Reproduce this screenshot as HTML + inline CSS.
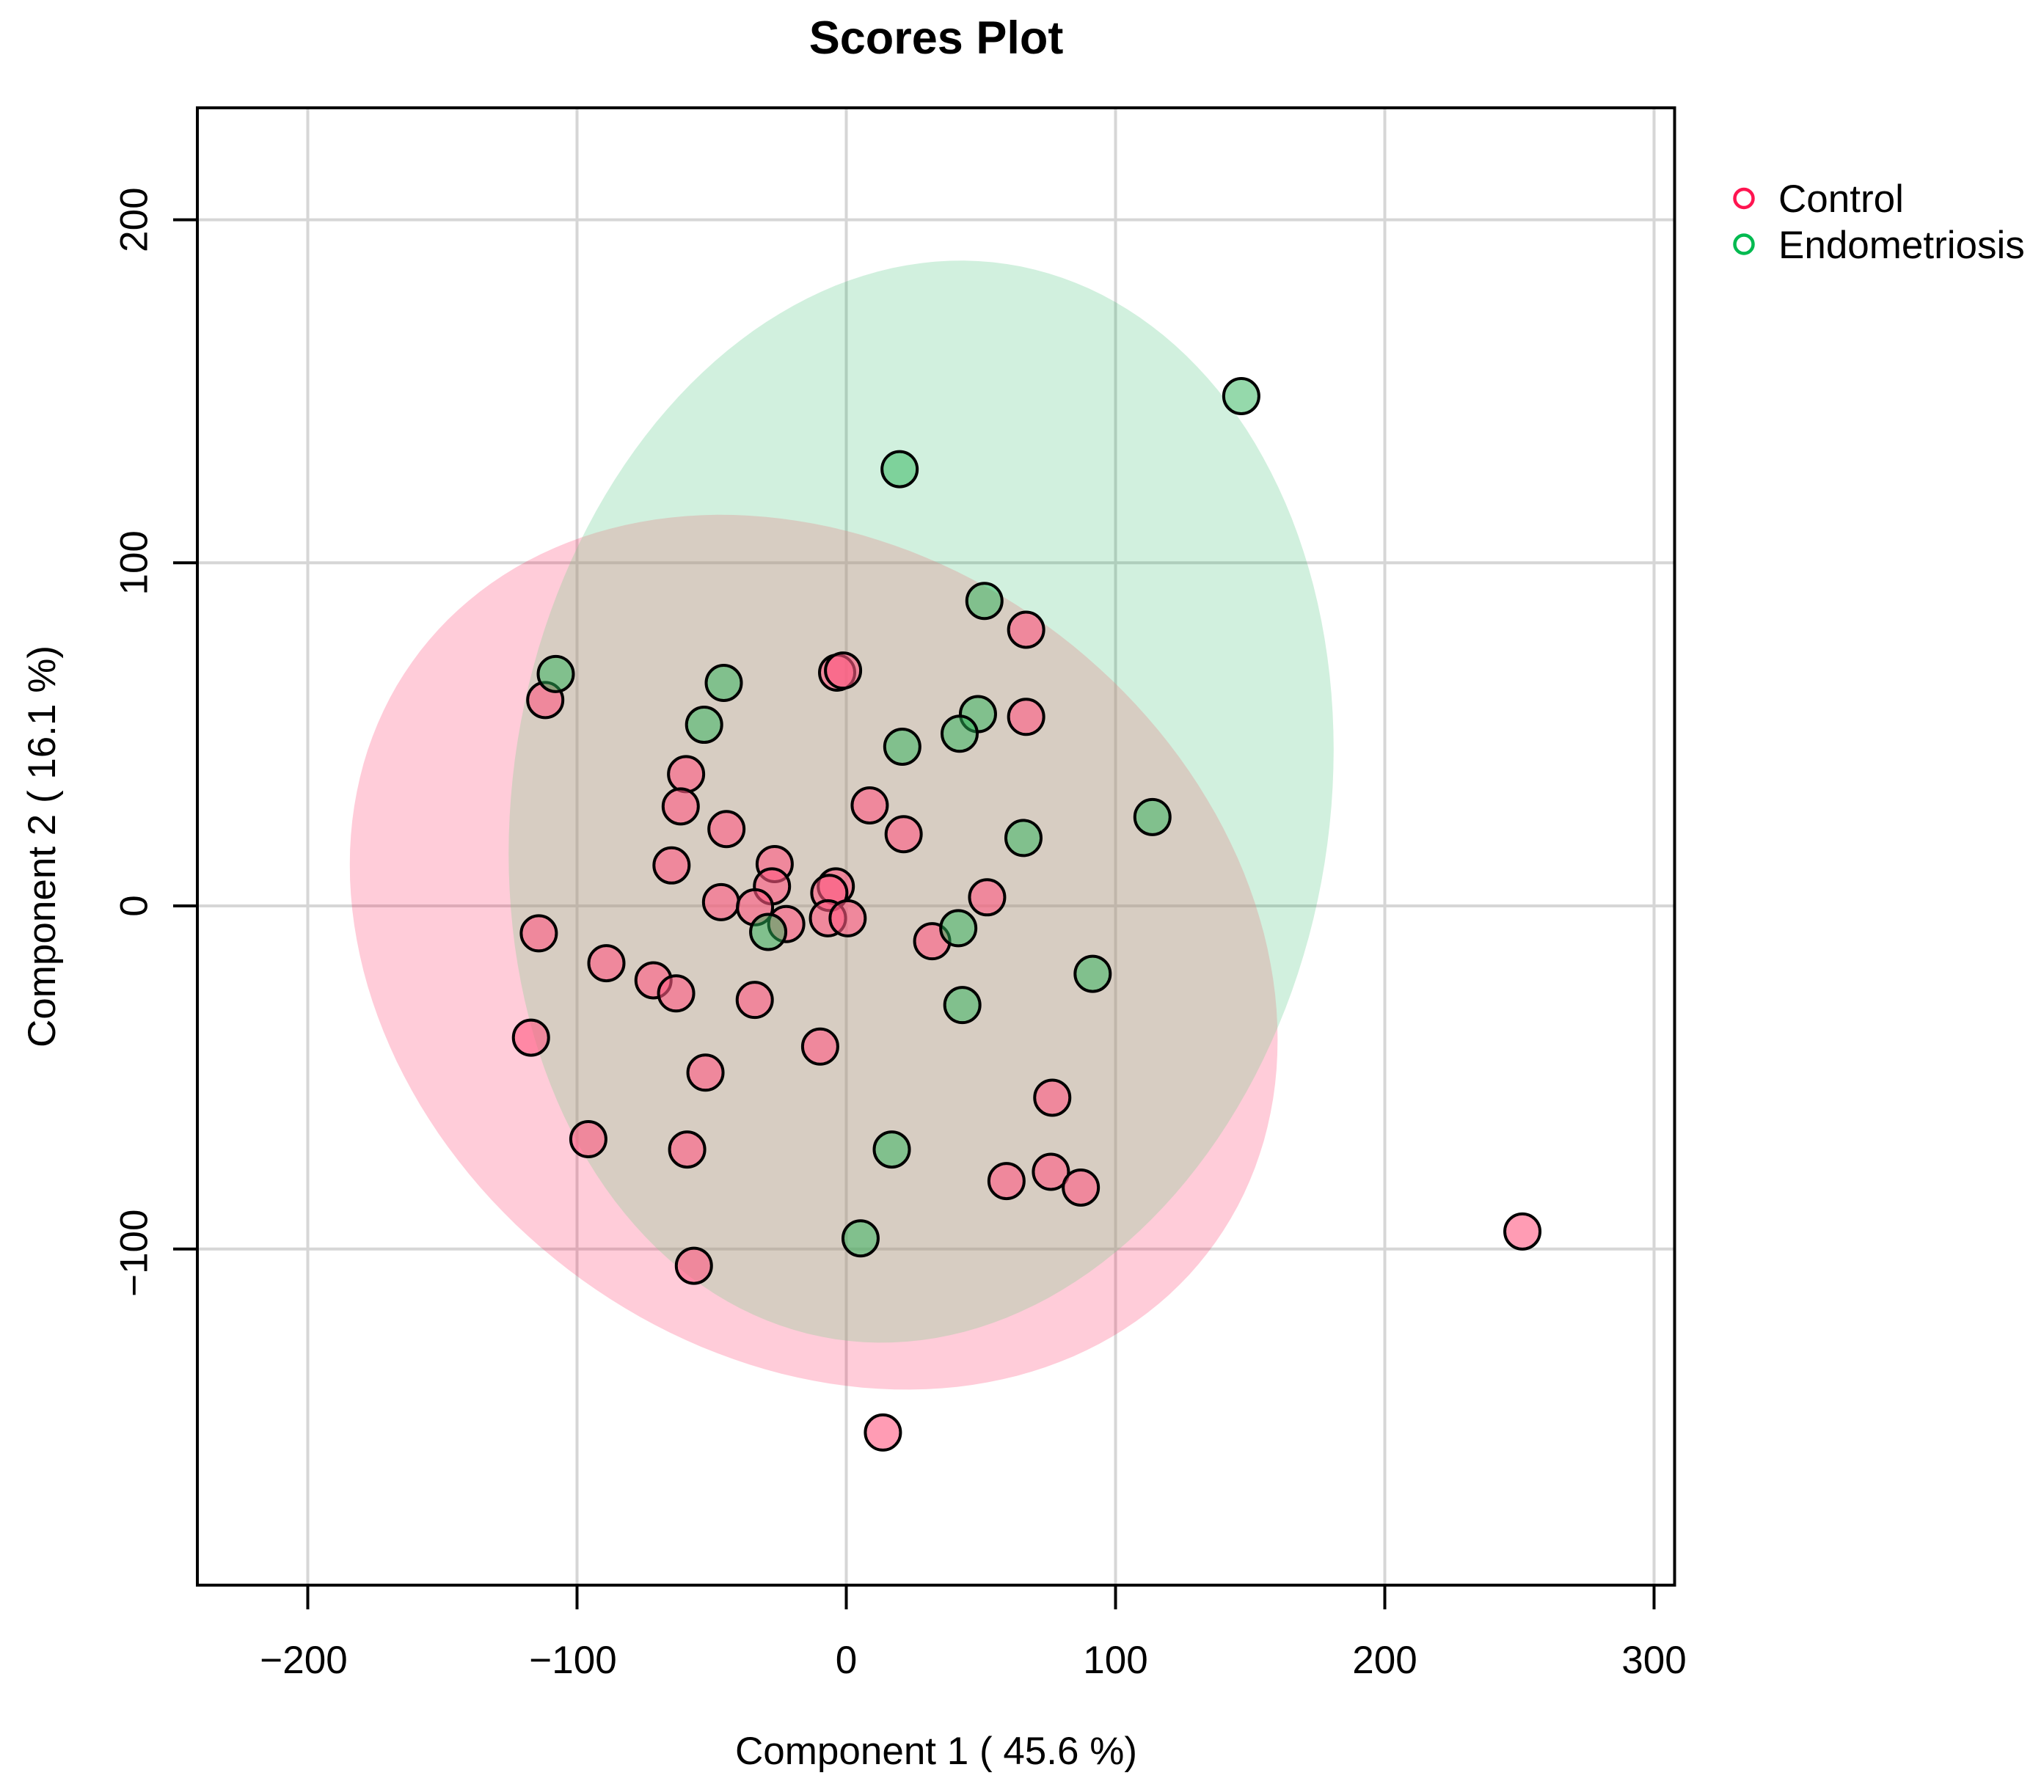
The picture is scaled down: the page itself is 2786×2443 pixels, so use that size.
<!DOCTYPE html>
<html lang="en">
<head>
<meta charset="utf-8">
<title>Scores Plot</title>
<style>
html,body{margin:0;padding:0;background:#fff;}
svg{display:block;font-family:"Liberation Sans",Arial,sans-serif;}
text{fill:#000;}
</style>
</head>
<body>
<svg id="chart" xmlns="http://www.w3.org/2000/svg" width="2786" height="2443" viewBox="0 0 2786 2443">
  <rect x="0" y="0" width="2786" height="2443" fill="#ffffff"/>
  <defs><clipPath id="control-clip"><polygon id="control-clip-shape" points="0,0"/></clipPath></defs>
  <g id="grid"></g>
  <g id="ellipses"></g>
  <g id="points"></g>
  <g id="axes"></g>
  <rect x="269" y="147" width="2013.5" height="2014" fill="none" stroke="#000" stroke-width="4"/>
  <text x="1276" y="73" font-size="63" font-weight="bold" text-anchor="middle">Scores Plot</text>
  <text x="1276" y="2405" font-size="53" text-anchor="middle">Component 1 ( 45.6 %)</text>
  <text transform="translate(75,1154) rotate(-90)" font-size="53" text-anchor="middle">Component 2 ( 16.1 %)</text>
  <g>
    <g>
      <circle cx="2377" cy="270.5" r="12.5" fill="none" stroke="#ff1450" stroke-width="4.5"/>
      <text x="2424" y="289" font-size="53">Control</text>
    </g>
    <g>
      <circle cx="2377" cy="333" r="12.5" fill="none" stroke="#00ba50" stroke-width="4.5"/>
      <text x="2424" y="352" font-size="53">Endometriosis</text>
    </g>
  </g>
</svg>
<script>
const xTickValues = [-200, -100, 0, 100, 200, 300];
const xTickLabels = ["\u2212200", "\u2212100", "0", "100", "200", "300"];
const yTickValues = [-100, 0, 100, 200];
const yTickLabels = ["\u2212100", "0", "100", "200"];

const controlX = [66.8, 66.8, -3.4, -1.2, -111.8, -59.5, -61.5, -44.5, 8.7, 21.3, -64.9, -26.6, -27.6, -46.5, -33.9, -22.3, -3.9, -6.3, -6.8, 0.5, 52.3, 31.9, -114.2, -89.1, -71.6, -63.2, -34.0, -117.1, -9.7, -52.3, 76.5, -95.8, -59.1, 59.5, 76.0, 87.1, -56.6, 13.6, 251.1];
const controlY = [80.5, 55.1, 68.0, 68.6, 60.0, 38.4, 29.0, 22.4, 29.3, 20.9, 11.8, 12.2, 5.7, 1.1, -0.4, -5.3, 5.7, 3.8, -3.6, -3.6, 2.5, -10.3, -8.0, -16.7, -21.7, -25.5, -27.4, -38.4, -41.0, -48.6, -55.9, -68.0, -71.0, -80.2, -77.5, -82.1, -104.9, -153.5, -94.9];
const endoX = [146.7, 19.8, 51.3, -107.9, -45.5, -52.8, 48.9, 42.1, 20.8, 113.7, 65.8, -29.0, 41.6, 91.5, 43.1, 16.9, 5.3];
const endoY = [148.6, 127.3, 88.9, 67.6, 65.0, 52.8, 55.9, 50.2, 46.4, 25.9, 19.8, -7.6, -6.5, -19.8, -28.9, -71.0, -96.9];

const ellipseCentreX = [-12.1, 27.8];
const ellipseCentreY = [-13.5, 30.4];
const ellipseHalfWidth = [172.3, 153.2];
const ellipseHalfHeight = [127.5, 157.7];
const ellipseCorrelation = [-0.2, 0.096];

const NS = "http://www.w3.org/2000/svg";
const X_ZERO = 1153.5, X_SCALE = 3.67, Y_ZERO = 1235, Y_SCALE = 4.677;
const PLOT_LEFT = 269, PLOT_RIGHT = 2282.5, PLOT_TOP = 147, PLOT_BOTTOM = 2161;
const TICK_LENGTH = 33;
function sx(v) { return X_ZERO + v * X_SCALE; }
function sy(v) { return Y_ZERO - v * Y_SCALE; }
function make(tag, attrs) {
  const el = document.createElementNS(NS, tag);
  for (const k in attrs) el.setAttribute(k, attrs[k]);
  return el;
}
const grid = document.getElementById("grid");
const axes = document.getElementById("axes");
const ellipses = document.getElementById("ellipses");
const points = document.getElementById("points");

xTickValues.forEach(function (v, i) {
  const g = make("line", {x1: sx(v), x2: sx(v), y1: PLOT_TOP, y2: PLOT_BOTTOM, stroke: "#d6d6d6", "stroke-width": 4});
  
  
  grid.appendChild(g);
  const t = make("line", {x1: sx(v), x2: sx(v), y1: PLOT_BOTTOM, y2: PLOT_BOTTOM + TICK_LENGTH, stroke: "#000", "stroke-width": 4});
  
  
  axes.appendChild(t);
  const shift = v < 0 ? -5.5 : 0;
  const l = make("text", {x: sx(v) + shift, y: 2281, "font-size": 53, "text-anchor": "middle"});
  
  
  l.textContent = xTickLabels[i];
  axes.appendChild(l);
});
yTickValues.forEach(function (v, i) {
  const g = make("line", {x1: PLOT_LEFT, x2: PLOT_RIGHT, y1: sy(v), y2: sy(v), stroke: "#d6d6d6", "stroke-width": 4});
  
  
  grid.appendChild(g);
  const t = make("line", {x1: PLOT_LEFT - TICK_LENGTH, x2: PLOT_LEFT, y1: sy(v), y2: sy(v), stroke: "#000", "stroke-width": 4});
  
  
  axes.appendChild(t);
  const shift = v < 0 ? 5.5 : 0;
  const l = make("text", {transform: "translate(200.5," + (sy(v) + shift) + ") rotate(-90)", "font-size": 53, "text-anchor": "middle"});
  
  
  l.textContent = yTickLabels[i];
  axes.appendChild(l);
});

function ellipsePoints(i) {
  const pts = [];
  const r = ellipseCorrelation[i];
  const q = Math.sqrt(1 - r * r);
  for (let a = 0; a < 360; a += 2) {
    const t = a * Math.PI / 180;
    const dx = ellipseHalfWidth[i] * Math.cos(t);
    const dy = ellipseHalfHeight[i] * (r * Math.cos(t) + q * Math.sin(t));
    pts.push(sx(ellipseCentreX[i] + dx).toFixed(1) + "," + sy(ellipseCentreY[i] + dy).toFixed(1));
  }
  return pts.join(" ");
}
const controlEllipse = make("polygon", {points: ellipsePoints(0), fill: "rgba(255,0,64,0.2)"});


ellipses.appendChild(controlEllipse);
const endoEllipse = make("polygon", {points: ellipsePoints(1), fill: "rgba(10,175,80,0.19)"});


ellipses.appendChild(endoEllipse);
document.getElementById("control-clip-shape").setAttribute("points", ellipsePoints(0));
const overlap = make("polygon", {points: ellipsePoints(1), fill: "rgba(255,245,215,0.15)", "clip-path": "url(#control-clip)"});


ellipses.appendChild(overlap);

function drawSeries(xs, ys, fill, pointName) {
  xs.forEach(function (v, i) {
    const c = make("circle", {cx: sx(v), cy: sy(ys[i]), r: 24, fill: fill, stroke: "#000", "stroke-width": 4});
    
    
    points.appendChild(c);
  });
}
drawSeries(controlX, controlY, "rgba(255,90,130,0.6)", "control-point");
drawSeries(endoX, endoY, "rgba(44,180,88,0.5)", "endometriosis-point");
</script>
</body>
</html>
